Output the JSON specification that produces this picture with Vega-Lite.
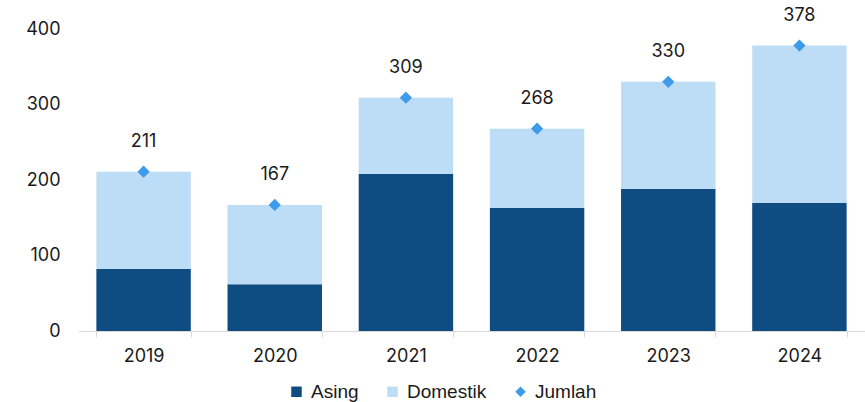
{
  "$schema": "https://vega.github.io/schema/vega-lite/v6.json",
  "autosize": {"type": "none"},
  "width": 787,
  "height": 302,
  "padding": {"left": 78, "top": 29, "right": 0, "bottom": 71},
  "config": {
    "view": {"stroke": null},
    "font": "Inter",
    "axis": {"labelFont": "Inter", "labelColor": "#1a1a1a", "labelFontSize": 18},
    "legend": {"labelFont": "Liberation Sans", "labelFontSize": 19, "labelColor": "#1a1a1a"}
  },
  "datasets": {
    "bars": [
      {"tahun": "2019", "seri": "Asing", "nilai": 82},
      {"tahun": "2019", "seri": "Domestik", "nilai": 129},
      {"tahun": "2020", "seri": "Asing", "nilai": 62},
      {"tahun": "2020", "seri": "Domestik", "nilai": 105},
      {"tahun": "2021", "seri": "Asing", "nilai": 208},
      {"tahun": "2021", "seri": "Domestik", "nilai": 101},
      {"tahun": "2022", "seri": "Asing", "nilai": 163},
      {"tahun": "2022", "seri": "Domestik", "nilai": 105},
      {"tahun": "2023", "seri": "Asing", "nilai": 188},
      {"tahun": "2023", "seri": "Domestik", "nilai": 142},
      {"tahun": "2024", "seri": "Asing", "nilai": 170},
      {"tahun": "2024", "seri": "Domestik", "nilai": 208}
    ],
    "total": [
      {"tahun": "2019", "seri": "Jumlah", "nilai": 211},
      {"tahun": "2020", "seri": "Jumlah", "nilai": 167},
      {"tahun": "2021", "seri": "Jumlah", "nilai": 309},
      {"tahun": "2022", "seri": "Jumlah", "nilai": 268},
      {"tahun": "2023", "seri": "Jumlah", "nilai": 330},
      {"tahun": "2024", "seri": "Jumlah", "nilai": 378}
    ]
  },
  "encoding": {
    "x": {
      "field": "tahun", "type": "nominal",
      "scale": {"paddingInner": 0.28, "paddingOuter": 0.14},
      "axis": {"title": null, "labelAngle": 0, "domainColor": "#d9d9d9", "tickColor": "#d9d9d9", "tickSize": 6, "tickBand": "extent", "labelPadding": 10}
    },
    "y": {
      "field": "nilai", "type": "quantitative",
      "scale": {"domain": [0, 400], "nice": false},
      "axis": {"title": null, "grid": false, "domain": false, "ticks": false, "values": [0, 100, 200, 300, 400], "labelPadding": 18}
    }
  },
  "layer": [
    {
      "data": {"name": "bars"},
      "mark": {"type": "bar"},
      "encoding": {
        "y": {"field": "nilai", "type": "quantitative", "stack": "zero"},
        "order": {"field": "seri", "sort": "ascending"},
        "color": {
          "field": "seri", "type": "nominal",
          "scale": {"domain": ["Asing", "Domestik", "Jumlah"], "range": ["#0F4C81", "#BDDCF5", "#3D9BE9"]},
          "legend": {"title": null, "orient": "none", "legendX": 209, "legendY": 353, "direction": "horizontal", "symbolType": "square", "symbolSize": 110, "columnPadding": 24, "labelOffset": 5, "symbolStrokeWidth": 0}
        }
      }
    },
    {
      "data": {"name": "total"},
      "mark": {"type": "point", "filled": true, "opacity": 1, "size": 150},
      "encoding": {
        "color": {"field": "seri", "type": "nominal"},
        "shape": {
          "field": "seri", "type": "nominal",
          "scale": {"domain": ["Asing", "Domestik", "Jumlah"], "range": ["square", "square", "diamond"]}
        }
      }
    },
    {
      "data": {"name": "total"},
      "mark": {"type": "text", "dy": -30, "fontSize": 18, "color": "#1a1a1a", "font": "Inter"},
      "encoding": {"text": {"field": "nilai", "type": "quantitative"}}
    }
  ]
}
